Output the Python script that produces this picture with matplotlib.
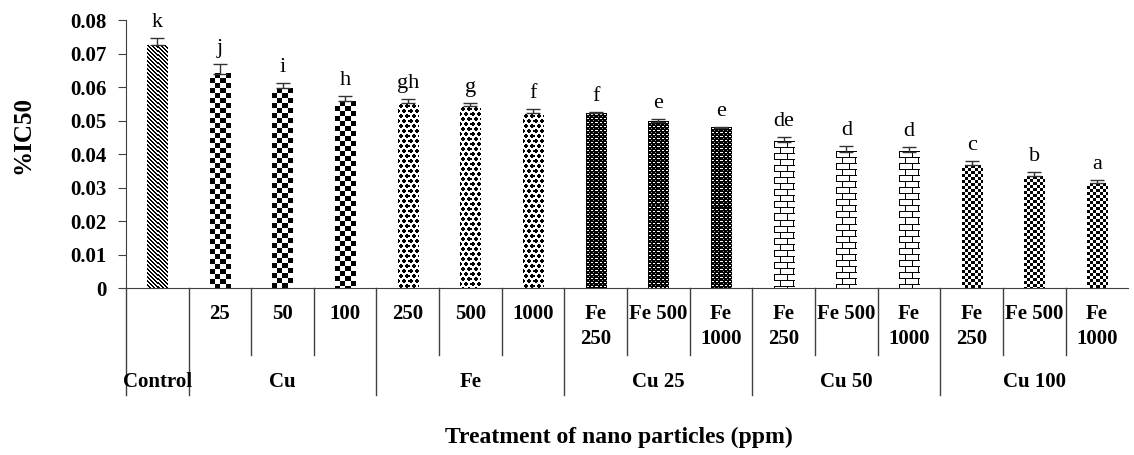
import matplotlib
matplotlib.use("Agg")
import matplotlib.pyplot as plt
import numpy as np

# values
ic50 = [0.0725, 0.0639, 0.0597, 0.0558, 0.0552, 0.0543, 0.0522, 0.0522,
        0.0496, 0.0478, 0.0436, 0.0406, 0.0406, 0.0367, 0.0334, 0.0313]
err = [0.0021, 0.0030, 0.0015, 0.0015, 0.0012, 0.0009, 0.0012, 0.0003,
       0.0009, 0.0003, 0.0014, 0.0018, 0.0014, 0.0013, 0.0013, 0.0009]
letters = ['k', 'j', 'i', 'h', 'gh', 'g', 'f', 'f', 'e', 'e', 'de', 'd', 'd', 'c', 'b', 'a']
sub_labels = ['', '25', '50', '100', '250', '500', '1000',
              'Fe\n250', 'Fe 500', 'Fe\n1000',
              'Fe\n250', 'Fe 500', 'Fe\n1000',
              'Fe\n250', 'Fe 500', 'Fe\n1000']
groups = ['Control', 'Cu', 'Fe', 'Cu 25', 'Cu 50', 'Cu 100']
group_size = [1, 3, 3, 3, 3, 3]
group_fill = ['diag', 'check', 'disc', 'dash', 'brick', 'fine']

plt.rcParams['font.family'] = ['Liberation Serif', 'DejaVu Serif']


def make_tile(kind):
    if kind == 'diag':
        t = np.eye(4) + np.roll(np.eye(4), 1, axis=1)
    elif kind == 'check':
        i, j = np.indices((10, 10))
        t = ((i // 5 + j // 5) % 2).astype(float)
    elif kind == 'fine':
        i, j = np.indices((6, 6))
        t = ((i // 3 + j // 3) % 2).astype(float)
    elif kind == 'disc':
        i, j = np.indices((10, 6))
        d1 = np.hypot(i - 2.5, j - 2.5)
        d2 = np.minimum(np.hypot(i - 7.5, j + 0.5), np.hypot(i - 7.5, j - 5.5))
        t = ((d1 < 2.1) | (d2 < 2.1)).astype(float)
    elif kind == 'dash':
        t = np.ones((4, 4))
        t[1, 1:3] = 0
        t[3, 3] = 0.4
    else:  # brick
        t = np.zeros((12, 12))
        t[0, :] = 1
        t[6, :] = 1
        t[1:6, 0] = 1
        t[7:12, 6] = 1
    return np.clip(t, 0, 1)


def fill_bar(ax, bar, tile):
    x0, y0 = bar.get_x(), bar.get_y()
    w, h = bar.get_width(), bar.get_height()
    (px0, py0), (px1, py1) = ax.transData.transform([(x0, y0), (x0 + w, y0 + h)])
    nx, ny = int(round(px1 - px0)), int(round(py1 - py0))
    th, tw = tile.shape
    img = np.tile(tile, (ny // th + 1, nx // tw + 1))[:ny, :nx]
    ax.imshow(img, extent=(x0, x0 + w, y0, y0 + h), cmap='gray_r', vmin=0, vmax=1,
              interpolation='nearest', aspect='auto', zorder=2)


fig = plt.figure(figsize=(11.34, 4.55), dpi=100)
ax = fig.add_axes([0.111, 0.367, 0.884, 0.589])

x = np.arange(len(ic50))
ax.set_xlim(-0.5, len(ic50) - 0.5)
ax.set_ylim(0, 0.08)

bars = ax.bar(x, ic50, width=0.32, color='none', edgecolor='none')
ax.errorbar(x, ic50, yerr=[np.zeros(len(err)), err], fmt='none', ecolor='#333333',
            elinewidth=1, capsize=5, capthick=1, zorder=3)

fills = []
for g, n in zip(group_fill, group_size):
    fills += [g] * n
for b, f in zip(bars, fills):
    fill_bar(ax, b, make_tile(f))
ax.set_xlim(-0.5, len(ic50) - 0.5)
ax.set_ylim(0, 0.08)

for xi, v, e, t in zip(x, ic50, err, letters):
    ax.annotate(t, (xi, v + e), xytext=(0, 8), textcoords='offset points',
                ha='center', va='baseline', fontsize=16)

ax.spines['top'].set_visible(False)
ax.spines['right'].set_visible(False)
for s in ['left', 'bottom']:
    ax.spines[s].set_color('#404040')
ax.set_yticks(np.arange(0, 0.081, 0.01))
ax.set_yticklabels(['0'] + ['%.2f' % v for v in np.arange(0.01, 0.081, 0.01)])
ax.tick_params(axis='y', direction='out', length=6, color='#404040', pad=8, labelsize=15)
for lab in ax.get_yticklabels():
    lab.set_fontweight('bold')
ax.set_xticks([])

# category table under the axis
tr = ax.get_xaxis_transform()
starts = np.cumsum([0] + group_size[:-1])
for s, n in zip(starts, group_size):
    ax.plot([s - 0.5, s - 0.5], [0, -0.40], transform=tr, clip_on=False,
            color='#404040', lw=1)
    for k in range(1, n):
        ax.plot([s + k - 0.5, s + k - 0.5], [0, -0.25], transform=tr, clip_on=False,
                color='#404040', lw=1)
for xi, t in zip(x, sub_labels):
    ax.text(xi, -0.06, t, transform=tr, ha='center', va='top', fontsize=15,
            fontweight='bold', linespacing=1.35)
for s, n, g in zip(starts, group_size, groups):
    ax.text(s + (n - 1) / 2, -0.35, g, transform=tr, ha='center', va='center',
            fontsize=15, fontweight='bold')

fig.text(0.546, 0.038, 'Treatment of nano particles (ppm)', ha='center', va='center',
         fontsize=17, fontweight='bold')
fig.text(0.02, 1 - 135 / 455, '%IC50', rotation=90, ha='center', va='center',
         fontsize=18, fontweight='bold')

fig.savefig('out.png', dpi=100)
